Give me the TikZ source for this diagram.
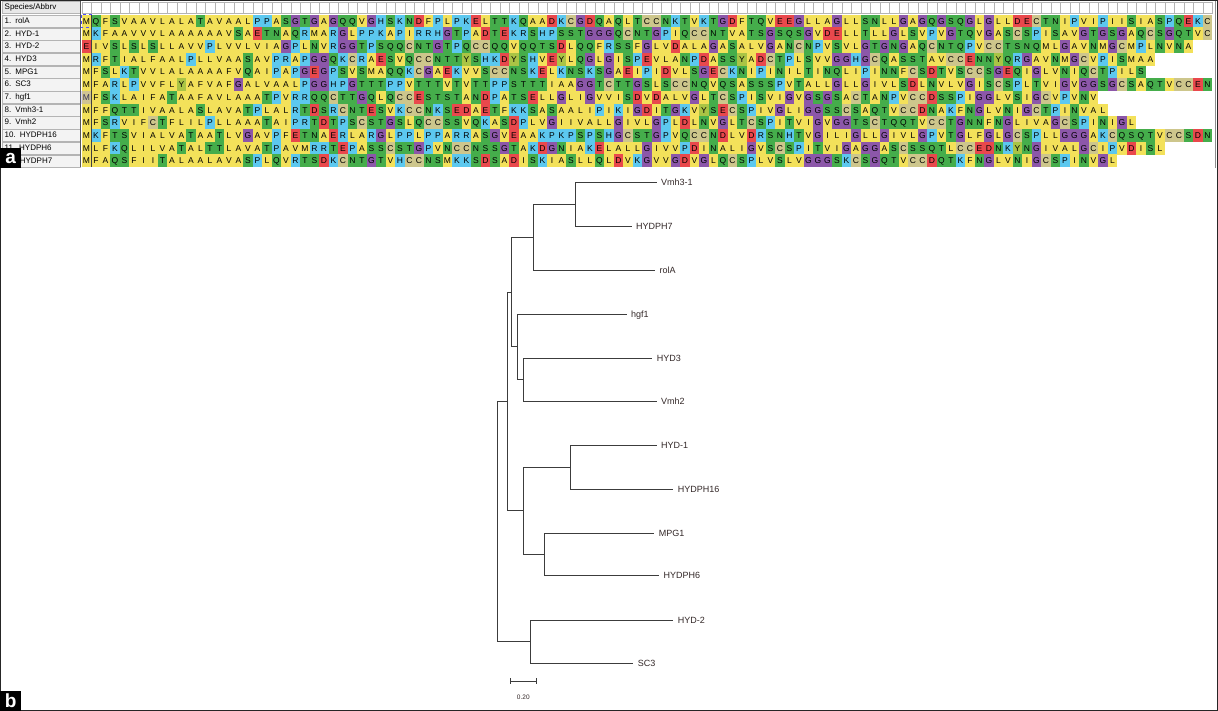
\documentclass[tikz,border=0pt]{standalone}
\usepackage{fontspec}
\setmainfont{Liberation Sans}
\usetikzlibrary{calc}
% residue colours
\definecolor{hyd}{HTML}{F3E15A}
\definecolor{pol}{HTML}{45AD4B}
\definecolor{bas}{HTML}{5CC8EF}
\definecolor{acd}{HTML}{E9484C}
\definecolor{gly}{HTML}{8C57A9}
\definecolor{cys}{HTML}{CDC68C}
\definecolor{tyr}{HTML}{AAC445}
\colorlet{cA}{hyd}\colorlet{cV}{hyd}\colorlet{cL}{hyd}\colorlet{cI}{hyd}
\colorlet{cM}{hyd}\colorlet{cF}{hyd}\colorlet{cW}{hyd}
\colorlet{cS}{pol}\colorlet{cT}{pol}\colorlet{cN}{pol}\colorlet{cQ}{pol}
\colorlet{cP}{bas}\colorlet{cK}{bas}\colorlet{cR}{bas}\colorlet{cH}{bas}
\colorlet{cD}{acd}\colorlet{cE}{acd}
\colorlet{cG}{gly}\colorlet{cC}{cys}\colorlet{cY}{tyr}
\definecolor{namefill}{HTML}{F3F3F3}
\definecolor{namebord}{HTML}{B4B4B4}
\definecolor{treeline}{HTML}{3C3C3C}
\definecolor{labtext}{HTML}{332828}

\newcommand\alncell[3]{%
  \node[res, fill=c#3] (s#1-#2) at ({81.7+(#2-0.5)*9.5},{14.8+(#1-0.5)*12.7}) {#3};}

\ExplSyntaxOn
\NewDocumentCommand\alnrow{mm}
 {
  \int_zero:N \l_tmpa_int
  \tl_map_inline:nn {#2}
   {
    \int_incr:N \l_tmpa_int
    \exp_args:NnV \alncell {#1} \l_tmpa_int {##1}
   }
 }
\ExplSyntaxOff

\tikzset{
  res/.style={minimum width=9.6pt, minimum height=12.75pt, inner sep=0pt,
    text height=6.1pt, text depth=0pt, font=\fontsize{8.5}{8.5}\selectfont},
  namecell/.style={anchor=west, minimum width=78pt, minimum height=12.2pt,
    text width=73pt, align=left, inner xsep=2.5pt, inner ysep=0pt,
    text height=6pt, text depth=1.5pt, fill=namefill, draw=namebord,
    line width=0.4pt, font=\fontsize{8}{8}\selectfont},
  rulercell/.style={draw=namebord, fill=white, line width=0.4pt},
  panellab/.style={fill=black, text=white, anchor=south west, minimum width=21pt,
    minimum height=20pt, inner sep=0pt, font=\fontsize{19}{19}\selectfont\bfseries},
  branch/.style={draw=treeline, line width=0.9pt},
  leaf/.style={anchor=west, inner xsep=4.3pt, inner ysep=0pt, text height=6.5pt,
    text depth=0pt, text=labtext, font=\fontsize{9}{9}\selectfont},
}

\begin{document}
\begin{tikzpicture}[x=1pt,y=-1pt]
\useasboundingbox (0,0) rectangle (1218,711);
\fill[white] (0,0) rectangle (1218,711);

% ---------- panel a: alignment ----------
\node[namecell, fill=black!9] (hdr) at (2,7.5) {Species/Abbrv};
\foreach \i in {1,...,119}
  \draw[rulercell] ({81.7+(\i-1)*9.5},1.8) rectangle ++(9.5,11.4);

\foreach \r/\nm in {1/1. rolA,2/2. HYD-1,3/3. HYD-2,4/4. HYD3,5/5. MPG1,6/6. SC3,
  7/7. hgf1,8/8. Vmh3-1,9/9. Vmh2,10/10. HYDPH16,11/11. HYDPH6,12/12. HYDPH7}
  \node[namecell] (nm\r) at (2,{14.8+(\r-0.5)*12.7}) {\nm};

\alnrow{1}{MQFSVAAVLALATAVAALPPASGTGAGQQVGHSKNDFPLPKELTTKQAADKCGDQAQLTCCNKTVKTGDFTQVEEGLLAGLLSNLLGAGQGSQGLGLLDECTNIPVIPIISIASPQEKC}
\alnrow{2}{MKFAAVVVLAAAAAAVSAETNAQRMARGLPPKAPIRRHGTPADTEKRSHPSSTGGGQCNTGPIQCCNTVATSGSQSGVDELLTLLGLSVPVGTQVGASCSPISAVGTGSGAQCSGQTVC}
\alnrow{3}{EIVSLSLSLLAVVPLVVLVIAGPLNVRGGTPSQQCNTGTPQCCQQVQQTSDLQQFRSSFGLVDALAGASALVGANCNPVSVLGTGNGAQCNTQPVCCTSNQMLGAVNMGCMPLNVNA}
\alnrow{4}{MRFTIALFAALPLLVAASAVPRAPGGQKCRAESVQCCNTTYSHKDYSHVEYLQGLGISPEVLANPDASSYADCTPLSVVGGHGCQASSTAVCCENNYQRGAVNMGCVPISMAA}
\alnrow{5}{MFSLKTVVLALAAAAFVQAIPAPGEGPSVSMAQQKCGAEKVVSCCNSKELKNSKSGAEIPIDVLSGECKNIPINILTINQLIPINNFCSDTVSCCSGEQIGLVNIQCTPILS}
\alnrow{6}{MFARLPVVFLYAFVAFGALVAALPGGHPGTTTPPVTTTVTVTTPPSTTTIAAGGTCTTGSLSCCNQVQSASSSPVTALLGLLGIVLSDLNVLVGISCSPLTVIGVGGSGCSAQTVCCEN}
\alnrow{7}{MFSKLAIFATAAFAVLAAATPVRRQQCTTGQLQCCESTSTANDPATSELLGLIGVVISDVDALVGLTCSPISVIGVGSGSACTANPVCCDSSPIGGLVSIGCVPVNV}
\alnrow{8}{MFFQTTIVAALASLAVATPLALRTDSRCNTESVKCCNKSEDAETFKKSASAALIPIKIGDITGKVYSECSPIVGLIGGSSCSAQTVCCDNAKFNGLVNIGCTPINVAL}
\alnrow{9}{MFSRVIFCTFLILPLLAAATAIPRTDTPSCSTGSLQCCSSVQKASDPLVGIIVALLGIVLGPLDLNVGLTCSPITVIGVGGTSCTQQTVCCTGNNFNGLIVAGCSPINIGL}
\alnrow{10}{MKFTSVIALVATAATLVGAVPFETNAERLARGLPPLPPARRASGVEAAKPKPSPSHGCSTGPVQCCNDLVDRSNHTVGILIGLLGIVLGPVTGLFGLGCSPLLGGGAKCQSQTVCCSDN}
\alnrow{11}{MLFKQLILVATALTTLAVATPAVMRRTEPASSCSTGPVNCCNSSGTAKDGNIAKELALLGIVVPDINALIGVSCSPITVIGAGGASCSSQTLCCEDNKYNGIVALGCIPVDISL}
\alnrow{12}{MFAQSFIITALAALAVASPLQVRTSDKCNTGTVHCCNSMKKSDSADISKIASLLQLDVKGVVGDVGLQCSPLVSLVGGGSKCSGQTVCCDQTKFNGLVNIGCSPINVGL}

% selection marks
\fill[blue!45, opacity=0.35] (s7-1.north west) rectangle (s7-1.south east);
\draw[blue!70, dashed, line width=0.5pt] (s1-1.north west) rectangle (s1-1.south east);
\draw[black!75, line width=0.8pt] (91.2,14.8) -- (91.2,167.2);
\draw[black!65, line width=1.2pt] (80.8,1.5) -- (80.8,167.5);
\draw[black!45, line width=0.6pt] (1215.2,0) -- (1215.2,168);

% frame
\draw[black!85, line width=1.2pt] (0.6,0.6) rectangle (1217.4,710.4);

\node[panellab] (pa) at (0,168.5) {a};
\node[panellab] (pb) at (0,711) {b};

% ---------- panel b: tree ----------
\coordinate (n1) at (575.7,204.7);
\coordinate (n2) at (533.3,237.3);
\coordinate (n3) at (523.3,379.7);
\coordinate (n4) at (517.3,346.8);
\coordinate (n5) at (511.0,292.0);
\coordinate (n6) at (570.7,467.2);
\coordinate (n7) at (544.0,554.5);
\coordinate (n8) at (523.3,510.8);
\coordinate (n9) at (507.9,401.4);
\coordinate (n10) at (530.0,641.7);
\coordinate (root) at (497.3,521.5);

\node[leaf] (Lvmh31) at (656.7,182.7) {Vmh3-1};
\node[leaf] (Lhydph7) at (631.7,226.7) {HYDPH7};
\node[leaf] (Lrola) at (655.0,270.0) {rolA};
\node[leaf] (Lhgf1) at (626.7,314.0) {hgf1};
\node[leaf] (Lhyd3) at (652.3,358.3) {HYD3};
\node[leaf] (Lvmh2) at (656.7,401.0) {Vmh2};
\node[leaf] (Lhyd1) at (656.7,445.0) {HYD-1};
\node[leaf] (Lhydph16) at (673.3,489.3) {HYDPH16};
\node[leaf] (Lmpg1) at (654.3,533.3) {MPG1};
\node[leaf] (Lhydph6) at (659.0,575.7) {HYDPH6};
\node[leaf] (Lhyd2) at (673.3,620.0) {HYD-2};
\node[leaf] (Lsc3) at (633.3,663.3) {SC3};

\draw[branch] (n1) |- (Lvmh31.west);
\draw[branch] (n1) |- (Lhydph7.west);
\draw[branch] (n2) |- (n1);
\draw[branch] (n2) |- (Lrola.west);
\draw[branch] (n3) |- (Lhyd3.west);
\draw[branch] (n3) |- (Lvmh2.west);
\draw[branch] (n4) |- (Lhgf1.west);
\draw[branch] (n4) |- (n3);
\draw[branch] (n5) |- (n2);
\draw[branch] (n5) |- (n4);
\draw[branch] (n6) |- (Lhyd1.west);
\draw[branch] (n6) |- (Lhydph16.west);
\draw[branch] (n7) |- (Lmpg1.west);
\draw[branch] (n7) |- (Lhydph6.west);
\draw[branch] (n8) |- (n6);
\draw[branch] (n8) |- (n7);
\draw[branch] (n9) |- (n5);
\draw[branch] (n9) |- (n8);
\draw[branch] (n10) |- (Lhyd2.west);
\draw[branch] (n10) |- (Lsc3.west);
\draw[branch] (root) |- (n9);
\draw[branch] (root) |- (n10);

% scale bar
\coordinate (sb1) at (510.0,681.0);
\coordinate (sb2) at (536.7,681.0);
\draw[branch, line width=0.8pt] (sb1) -- (sb2);
\draw[branch, line width=0.8pt] ($(sb1)+(0,-2.6)$) -- ($(sb1)+(0,2.6)$);
\draw[branch, line width=0.8pt] ($(sb2)+(0,-2.6)$) -- ($(sb2)+(0,2.6)$);
\node[inner sep=0pt, text=labtext, font=\fontsize{6.5}{6.5}\selectfont] (sbl) at (523.3,697.7) {0.20};
\end{tikzpicture}
\end{document}
